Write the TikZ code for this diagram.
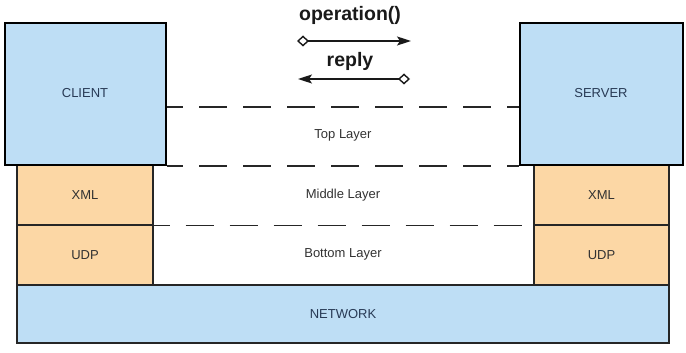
\documentclass[tikz,border=0pt]{standalone}
\usepackage{fontspec}
\setmainfont{Liberation Sans}
\usetikzlibrary{arrows.meta}
\definecolor{boxblue}{RGB}{190,222,245}
\definecolor{boxorange}{RGB}{252,215,165}
\definecolor{navytext}{RGB}{40,58,85}
\definecolor{greytext}{RGB}{50,50,50}
\begin{document}
\begin{tikzpicture}[x=1pt,y=-1pt,
  bigbox/.style={draw=black,line width=2.4pt,fill=boxblue,inner sep=0pt,
    font=\fontsize{13}{15}\selectfont,text=navytext},
  layerbox/.style={draw=black!85,line width=1.3pt,fill=boxorange,inner sep=0pt,
    font=\fontsize{13}{15}\selectfont,text=greytext},
  netbox/.style={draw=black!85,line width=1.3pt,fill=boxblue,inner sep=0pt,
    font=\fontsize{13}{15}\selectfont,text=navytext},
  layerlabel/.style={font=\fontsize{13}{15}\selectfont,text=greytext},
  msglabel/.style={font=\bfseries\fontsize{19.5}{22}\selectfont,text=black!90},
  dashline/.style={draw=black!85,line width=1.6pt,dash pattern=on 28pt off 16pt,dash phase=12pt},
  msgarrow/.style={line width=1.5pt,draw=black!90,
    {Diamond[open,length=12pt,width=11pt,line width=1.4pt]}-{Stealth[length=14pt,width=9pt,inset=3pt]}}
]
\useasboundingbox (0,0) rectangle (686,353);
% layer boxes
\node[layerbox,minimum width=136pt,minimum height=60pt] (xmlL) at (85,195) {XML};
\node[layerbox,minimum width=136pt,minimum height=60pt] (udpL) at (85,255) {UDP};
\node[layerbox,minimum width=135pt,minimum height=60pt] (xmlR) at (601.5,195) {XML};
\node[layerbox,minimum width=135pt,minimum height=60pt] (udpR) at (601.5,255) {UDP};
\node[netbox,minimum width=652pt,minimum height=58pt] (net) at (343,314) {NETWORK};
% client / server
\node[bigbox,minimum width=161pt,minimum height=142pt] (client) at (85.5,94) {};
\node[bigbox,minimum width=163pt,minimum height=142pt] (server) at (601.5,94) {};
\node[font=\fontsize{13}{15}\selectfont,text=navytext] (clientlbl) at (85,93) {CLIENT};
\node[font=\fontsize{13}{15}\selectfont,text=navytext] (serverlbl) at (601,93) {SERVER};
% dashed layer lines
\draw[dashline] ([yshift=-13pt]client.east) -- ([yshift=-13pt]server.west);
\draw[dashline] (client.south east) -- (server.south west);
\draw[dashline] (xmlL.south east) -- (xmlR.south west);
\draw[dashline] (udpL.south east) -- (udpR.south west);
% layer labels
\node[layerlabel] (top) at (343,135) {Top Layer};
\node[layerlabel] (mid) at (343,195) {Middle Layer};
\node[layerlabel] (bot) at (343,254) {Bottom Layer};
% messages
\node[msglabel] (op) at (350,15) {operation()};
\node[msglabel] (rep) at (350,61) {reply};
\coordinate (opA) at (297,41);
\coordinate (opB) at (411,41);
\coordinate (repA) at (410,79);
\coordinate (repB) at (298,79);
\draw[msgarrow] (opA) -- (opB);
\draw[msgarrow] (repA) -- (repB);
\end{tikzpicture}
\end{document}
